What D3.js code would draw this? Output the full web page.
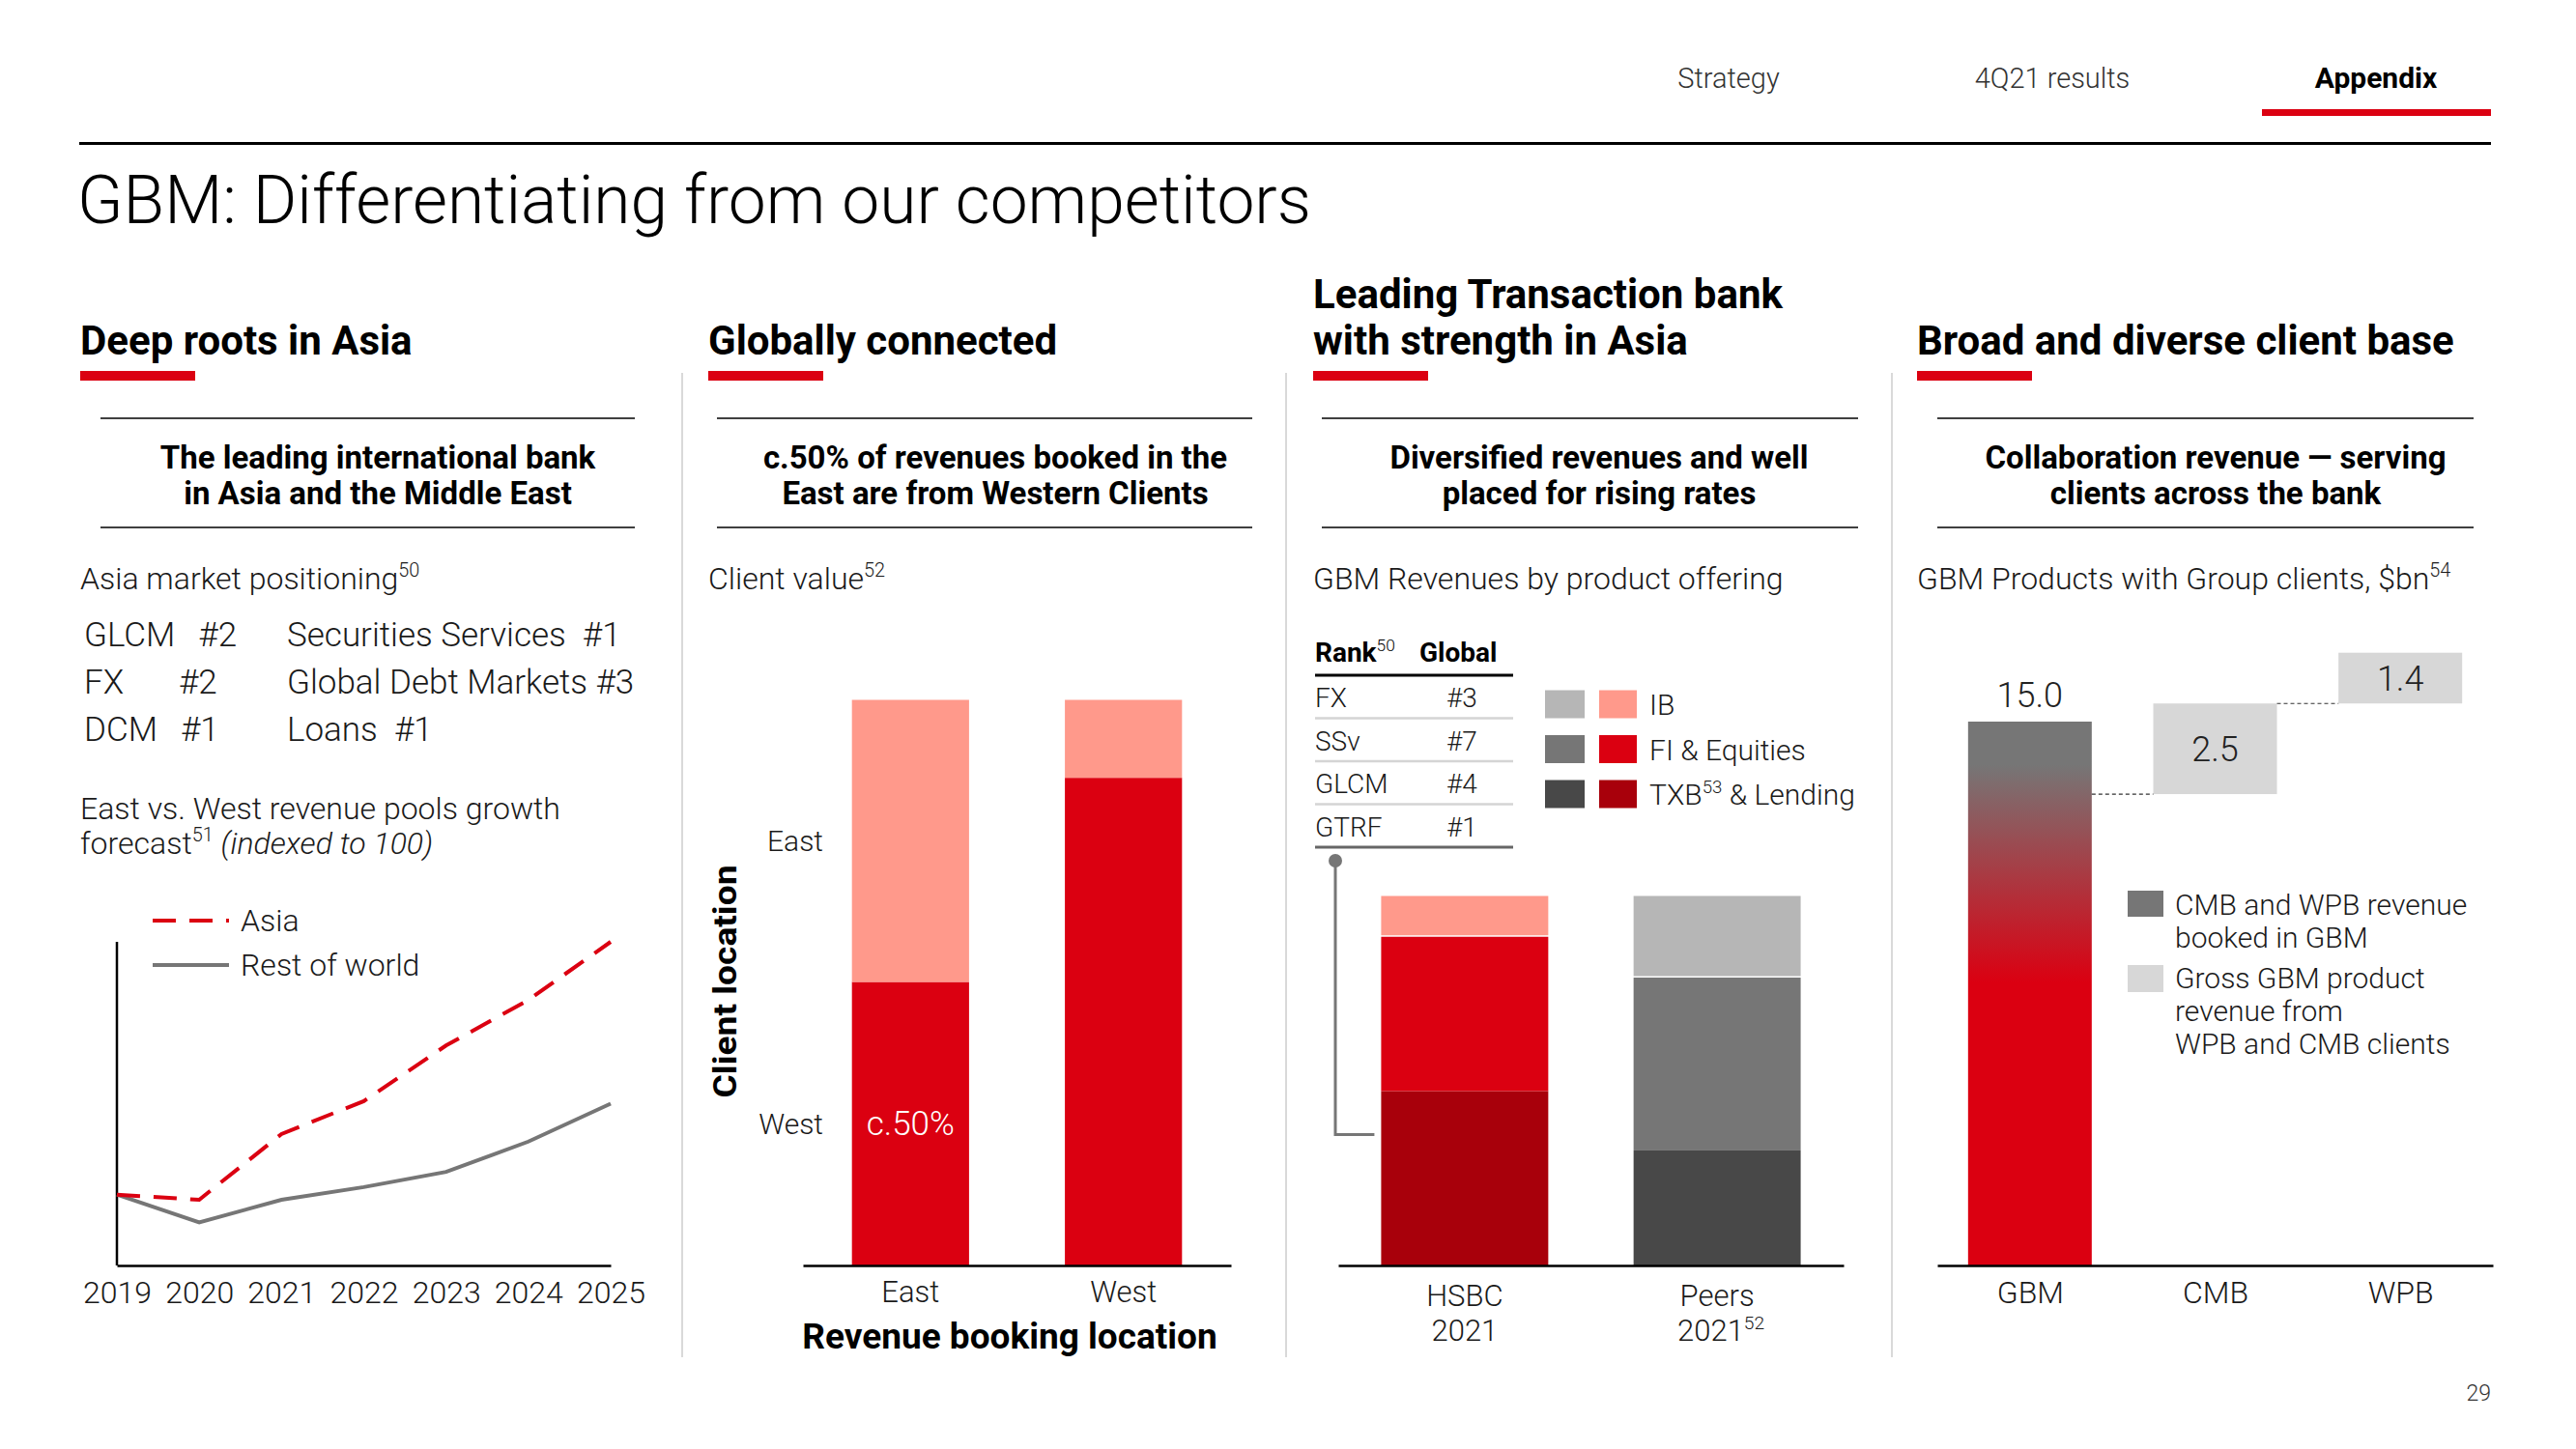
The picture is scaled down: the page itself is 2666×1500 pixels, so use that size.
<!DOCTYPE html>
<html><head><meta charset="utf-8">
<script src="https://cdn.jsdelivr.net/npm/d3@7"></script>
<style>
body{margin:0;background:#fff}
svg{display:block}
text{font-family:Roboto,"Liberation Sans",Arial,sans-serif;white-space:pre}
</style>
</head><body>
<svg id="c" width="2666" height="1500"></svg>
<script>
// ---------------- DATA ----------------
const navItems = ["Strategy", "4Q21 results", "Appendix"];
const pageTitle = "GBM: Differentiating from our competitors";
const sectionTitles = [["Deep roots in Asia"], ["Globally connected"], ["Leading Transaction bank", "with strength in Asia"], ["Broad and diverse client base"]];
const subHeads = [["The leading international bank", "in Asia and the Middle East"], ["c.50% of revenues booked in the", "East are from Western Clients"], ["Diversified revenues and well", "placed for rising rates"], ["Collaboration revenue \u2014 serving", "clients across the bank"]];

// Panel 1
const asiaRankNames = ["GLCM", "FX", "DCM"];
const asiaRanks = ["#2", "#2", "#1"];
const asiaRankRight = ["Securities Services  #1", "Global Debt Markets #3", "Loans  #1"];
const years = [2019, 2020, 2021, 2022, 2023, 2024, 2025];
const asiaGrowth = [100, 98, 124, 137, 159, 177, 200];
const restOfWorldGrowth = [100, 89, 98, 103, 109, 121, 136];

// Panel 2
const bookingLocations = ["East", "West"];
const westClientShare = [50, 86];
const eastClientShare = [50, 14];

// Panel 3
const rankProducts = ["FX", "SSv", "GLCM", "GTRF"];
const rankGlobal = ["#3", "#7", "#4", "#1"];
const revenueGroups = ["HSBC", "Peers"];
const txbLendingShare = [47, 31];
const fiEquitiesShare = [42, 47];
const ibShare = [11, 22];

// Panel 4
const waterfallCats = ["GBM", "CMB", "WPB"];
const waterfallValues = [15.0, 2.5, 1.4];
const cmbWpbBookedInGbm = 2.0;

// ---------------- COLOURS ----------------
const RED = "#DB0011", DARKRED = "#A8000B", PINK = "#FF998B";
const G_LIGHT = "#B6B6B6", G_MID = "#767676", G_DARK = "#484848", G_BOX = "#D7D7D7";
const INK = "#1a1a1a";
const BODY = 32;

const svg = d3.select("#c");
svg.append("rect").attr("width", 2666).attr("height", 1500).attr("fill", "#fff");

function txt(parent, x, y, parts, o = {}) {
  const size = o.size || BODY;
  const t = parent.append("text").attr("x", x).attr("y", y)
    .attr("font-size", size).attr("font-weight", o.weight || 300)
    .attr("fill", o.fill || INK).attr("text-anchor", o.anchor || "start");
  if (typeof parts === "string") parts = [{t: parts}];
  let shifted = 0;
  parts.forEach(p => {
    const ts = t.append("tspan").text(p.t);
    const want = p.sup ? -0.4 * size : 0;
    if (want !== shifted) { ts.attr("dy", want - shifted); shifted = want; }
    if (p.sup) ts.attr("font-size", size * 0.62);
    if (p.italic) ts.attr("font-style", "italic");
    if (p.weight) ts.attr("font-weight", p.weight);
  });
  return t;
}
function styleAxis(ax, size) {
  ax.select(".domain").attr("stroke", "#000").attr("stroke-width", 2.5);
  ax.selectAll("text").attr("font-size", size).attr("font-weight", 300).attr("fill", INK)
    .attr("font-family", "Roboto, 'Liberation Sans', Arial, sans-serif").attr("dy", "0.71em");
}

// ---------------- HEADER ----------------
const navX = [1789, 2124, 2459];
navItems.forEach((n, i) => txt(svg, navX[i], 91, n, {size: i === 2 ? 30 : 29, anchor: "middle", weight: i === 2 ? 700 : 300, fill: i === 2 ? "#000" : "#333"}));
svg.append("rect").attr("x", 2341).attr("y", 113).attr("width", 237).attr("height", 7).attr("fill", RED);
svg.append("rect").attr("x", 82).attr("y", 147).attr("width", 2496).attr("height", 3).attr("fill", "#000");
txt(svg, 80, 231, pageTitle, {size: 69.5, weight: 300, fill: "#000"});
txt(svg, 2578, 1450, "29", {size: 23, anchor: "end", fill: "#333"});

// ---------------- PANEL FRAMES ----------------
const panelX = [83, 733, 1359, 1984];
const subLine = [[104, 657], [742, 1296], [1368, 1923], [2005, 2560]];
const subCenter = [391, 1030, 1655, 2293];
sectionTitles.forEach((lines, i) => {
  lines.forEach((l, j) => txt(svg, panelX[i], 367 - (lines.length - 1 - j) * 48, l, {size: 42, weight: 700, fill: "#000"}));
  svg.append("rect").attr("x", panelX[i]).attr("y", 384).attr("width", 119).attr("height", 10).attr("fill", RED);
  svg.append("line").attr("x1", subLine[i][0]).attr("x2", subLine[i][1]).attr("y1", 433).attr("y2", 433).attr("stroke", "#000").attr("stroke-width", 1.6);
  svg.append("line").attr("x1", subLine[i][0]).attr("x2", subLine[i][1]).attr("y1", 546).attr("y2", 546).attr("stroke", "#000").attr("stroke-width", 1.6);
  subHeads[i].forEach((l, j) => txt(svg, subCenter[i], 485 + j * 37, l, {size: 33, weight: 700, anchor: "middle", fill: "#000"}));
});
[706, 1331, 1958].forEach(x => svg.append("line").attr("x1", x).attr("x2", x).attr("y1", 386).attr("y2", 1405).attr("stroke", "#d9d9d9").attr("stroke-width", 2));

// ---------------- PANEL 1 ----------------
const p1 = svg.append("g");
txt(p1, 83, 610, [{t: "Asia market positioning"}, {t: "50", sup: true}]);
asiaRankNames.forEach((n, i) => {
  const y = 669 + i * 49;
  const t = txt(p1, 87, y, n, {size: 35});
  const w = t.node().getComputedTextLength();
  txt(p1, Math.max(185, 87 + w + 24), y, asiaRanks[i], {size: 35});
  txt(p1, 297, y, asiaRankRight[i], {size: 35});
});
txt(p1, 83, 848, "East vs. West revenue pools growth");
txt(p1, 83, 884, [{t: "forecast"}, {t: "51", sup: true}, {t: " "}, {t: "(indexed to 100)", italic: true}]);

const x1 = d3.scalePoint().domain(years).range([121, 632]);
const y1 = d3.scaleLinear().domain([72, 200]).range([1310, 975]);
p1.append("line").attr("x1", 121).attr("x2", 121).attr("y1", 975).attr("y2", 1310).attr("stroke", "#000").attr("stroke-width", 2.5);
const ax1 = p1.append("g").attr("transform", "translate(0,1310)").call(d3.axisBottom(x1).tickSize(0).tickPadding(16));
styleAxis(ax1, 32);
const line1 = d3.line().x((d, i) => x1(years[i])).y(d => y1(d));
p1.append("path").attr("d", line1(restOfWorldGrowth)).attr("fill", "none").attr("stroke", G_MID).attr("stroke-width", 4);
p1.append("path").attr("d", line1(asiaGrowth)).attr("fill", "none").attr("stroke", RED).attr("stroke-width", 4).attr("stroke-dasharray", "24,14");
// legend
p1.append("line").attr("x1", 158).attr("x2", 237).attr("y1", 953).attr("y2", 953).attr("stroke", RED).attr("stroke-width", 4).attr("stroke-dasharray", "24,14");
txt(p1, 249, 964, "Asia");
p1.append("line").attr("x1", 158).attr("x2", 237).attr("y1", 999).attr("y2", 999).attr("stroke", G_MID).attr("stroke-width", 4);
txt(p1, 249, 1010, "Rest of world");

// ---------------- PANEL 2 ----------------
const p2 = svg.append("g");
txt(p2, 733, 610, [{t: "Client value"}, {t: "52", sup: true}]);
const clientTable = bookingLocations.map((b, i) => ({loc: b, West: westClientShare[i], East: eastClientShare[i]}));
const stack2 = d3.stack().keys(["West", "East"])(clientTable);
const x2 = d3.scaleBand().domain(bookingLocations).range([831, 1274]).paddingInner(0.45).paddingOuter(0.23);
const y2 = d3.scaleLinear().domain([0, 100]).range([1310, 723]);
const col2 = {West: RED, East: PINK};
stack2.forEach(s => {
  p2.selectAll(null).data(s).enter().append("rect")
    .attr("x", d => x2(d.data.loc)).attr("width", x2.bandwidth())
    .attr("y", d => y2(d[1]) + (s.index > 0 ? 1.5 : 0))
    .attr("height", d => y2(d[0]) - y2(d[1]) - (s.index > 0 ? 1.5 : 0))
    .attr("fill", col2[s.key]);
});
const ax2 = p2.append("g").attr("transform", "translate(0,1310)").call(d3.axisBottom(x2).tickSize(0).tickPadding(16).tickSizeOuter(0));
styleAxis(ax2, 31);
txt(p2, 1045, 1396, "Revenue booking location", {size: 37, weight: 700, anchor: "middle", fill: "#000"});
txt(p2, 852, y2((westClientShare[0] + 100) / 2) + 11, "East", {size: 30, anchor: "end"});
txt(p2, 852, y2(westClientShare[0] / 2) + 11, "West", {size: 30, anchor: "end"});
txt(p2, x2("East") + x2.bandwidth() / 2, y2(westClientShare[0] / 2) + 12, "c." + westClientShare[0] + "%", {size: 35, anchor: "middle", fill: "#fff"});
txt(p2, 0, 0, "Client location", {size: 34, weight: 700, anchor: "middle", fill: "#000"})
  .attr("transform", "translate(762,1016) rotate(-90)").attr("textLength", 241).attr("lengthAdjust", "spacingAndGlyphs");

// ---------------- PANEL 3 ----------------
const p3 = svg.append("g");
txt(p3, 1359, 610, "GBM Revenues by product offering");
txt(p3, 1361, 685, [{t: "Rank", weight: 700}, {t: "50", sup: true}], {size: 28, weight: 300, fill: "#000"});
txt(p3, 1469, 685, "Global", {size: 28, weight: 700, fill: "#000"});
p3.append("line").attr("x1", 1361).attr("x2", 1566).attr("y1", 699).attr("y2", 699).attr("stroke", "#000").attr("stroke-width", 3);
rankProducts.forEach((r, i) => {
  const y = 732 + i * 44.5;
  txt(p3, 1361, y, r, {size: 28});
  txt(p3, 1497, y, rankGlobal[i], {size: 28});
  p3.append("line").attr("x1", 1361).attr("x2", 1566).attr("y1", y + 11.5).attr("y2", y + 11.5)
    .attr("stroke", i === rankProducts.length - 1 ? "#666" : "#d4d4d4").attr("stroke-width", i === rankProducts.length - 1 ? 3 : 2.5);
});
const legend3 = [{g: G_LIGHT, r: PINK, parts: [{t: "IB"}]}, {g: G_MID, r: RED, parts: [{t: "FI & Equities"}]}, {g: G_DARK, r: DARKRED, parts: [{t: "TXB"}, {t: "53", sup: true}, {t: " & Lending"}]}];
legend3.forEach((l, i) => {
  const cy = 729 + i * 46.5;
  p3.append("rect").attr("x", 1599).attr("y", cy - 14.5).attr("width", 41).attr("height", 29).attr("fill", l.g);
  p3.append("rect").attr("x", 1655).attr("y", cy - 14.5).attr("width", 39).attr("height", 29).attr("fill", l.r);
  txt(p3, 1707, cy + 11, l.parts, {size: 30});
});
const revTable = revenueGroups.map((g, i) => ({grp: g, txb: txbLendingShare[i], fi: fiEquitiesShare[i], ib: ibShare[i]}));
const stack3 = d3.stack().keys(["txb", "fi", "ib"])(revTable);
const x3 = d3.scaleBand().domain(revenueGroups).range([1385, 1908]).paddingInner(0.338).paddingOuter(0.17);
const y3 = d3.scaleLinear().domain([0, 100]).range([1310, 926]);
const col3 = {HSBC: {txb: DARKRED, fi: RED, ib: PINK}, Peers: {txb: G_DARK, fi: G_MID, ib: G_LIGHT}};
stack3.forEach(s => {
  p3.selectAll(null).data(s).enter().append("rect")
    .attr("x", d => x3(d.data.grp)).attr("width", x3.bandwidth())
    .attr("y", d => y3(d[1]) + (s.index > 0 ? 1.5 : 0))
    .attr("height", d => y3(d[0]) - y3(d[1]) - (s.index > 0 ? 1.5 : 0))
    .attr("fill", d => col3[d.data.grp][s.key]);
});
const ax3 = p3.append("g").attr("transform", "translate(0,1310)").call(d3.axisBottom(x3).tickSize(0).tickSizeOuter(0).tickFormat(() => ""));
ax3.select(".domain").attr("stroke", "#000").attr("stroke-width", 2.5);
const subLabels3 = [[{t: "2021"}], [{t: "2021"}, {t: "52", sup: true}]];
revenueGroups.forEach((g, i) => {
  const cx = x3(g) + x3.bandwidth() / 2;
  txt(p3, cx, 1352, g, {size: 31, anchor: "middle"});
  txt(p3, cx + (i === 1 ? 4 : 0), 1388, subLabels3[i], {size: 31, anchor: "middle"});
});
// bracket linking the ranking table to the transaction banking segment
const brX = 1382, brTop = 891, brY = y3(txbLendingShare[0]) + 45;
p3.append("path").attr("d", `M${brX},${brTop}V${brY}H${x3("HSBC") - 7}`).attr("fill", "none").attr("stroke", G_MID).attr("stroke-width", 3);
p3.append("circle").attr("cx", brX).attr("cy", brTop).attr("r", 7).attr("fill", G_MID);

// ---------------- PANEL 4 ----------------
const p4 = svg.append("g");
txt(p4, 1984, 610, [{t: "GBM Products with Group clients, $bn"}, {t: "54", sup: true}]);
const x4 = d3.scalePoint().domain(waterfallCats).range([2005, 2580]).padding(0.5);
const y4 = d3.scaleLinear().domain([0, waterfallValues[0]]).range([1310, 747]);
const bw4 = 128;
const defs = svg.append("defs");
const grad = defs.append("linearGradient").attr("id", "gbmGrad").attr("x1", 0).attr("y1", 0).attr("x2", 0).attr("y2", 1);
grad.append("stop").attr("offset", 0).attr("stop-color", G_MID);
grad.append("stop").attr("offset", 0.08).attr("stop-color", G_MID);
grad.append("stop").attr("offset", 0.48).attr("stop-color", RED);
grad.append("stop").attr("offset", 1).attr("stop-color", RED);
let level = waterfallValues[0] - cmbWpbBookedInGbm;
const wf = waterfallCats.map((c, i) => {
  if (i === 0) return {c, v: waterfallValues[0], lo: 0, hi: waterfallValues[0]};
  const o = {c, v: waterfallValues[i], lo: level, hi: level + waterfallValues[i]};
  level += waterfallValues[i];
  return o;
});
wf.forEach((d, i) => {
  p4.append("rect").attr("x", x4(d.c) - bw4 / 2).attr("width", bw4)
    .attr("y", y4(d.hi)).attr("height", y4(d.lo) - y4(d.hi))
    .attr("fill", i === 0 ? "url(#gbmGrad)" : G_BOX);
  if (i === 0) txt(p4, x4(d.c), y4(d.hi) - 15, d.v.toFixed(1), {size: 36, anchor: "middle", fill: "#222"});
  else txt(p4, x4(d.c), (y4(d.lo) + y4(d.hi)) / 2 + 13, d.v.toFixed(1), {size: 36, anchor: "middle", fill: "#222"});
  if (i > 0) {
    const prev = wf[i - 1];
    p4.append("line").attr("x1", x4(prev.c) + bw4 / 2).attr("x2", x4(d.c) - bw4 / 2)
      .attr("y1", y4(d.lo)).attr("y2", y4(d.lo)).attr("stroke", "#333").attr("stroke-width", 1.2).attr("stroke-dasharray", "4,3");
  }
});
const ax4 = p4.append("g").attr("transform", "translate(0,1310)").call(d3.axisBottom(x4).tickSize(0).tickPadding(16));
styleAxis(ax4, 32);
// legend
p4.append("rect").attr("x", 2202).attr("y", 922).attr("width", 37).attr("height", 27).attr("fill", G_MID);
txt(p4, 2251, 947, "CMB and WPB revenue", {size: 30});
txt(p4, 2251, 981, "booked in GBM", {size: 30});
p4.append("rect").attr("x", 2202).attr("y", 999).attr("width", 37).attr("height", 28).attr("fill", G_BOX);
["Gross GBM product", "revenue from", "WPB and CMB clients"].forEach((l, i) => txt(p4, 2251, 1023 + i * 34, l, {size: 30}));
</script>
</body></html>
